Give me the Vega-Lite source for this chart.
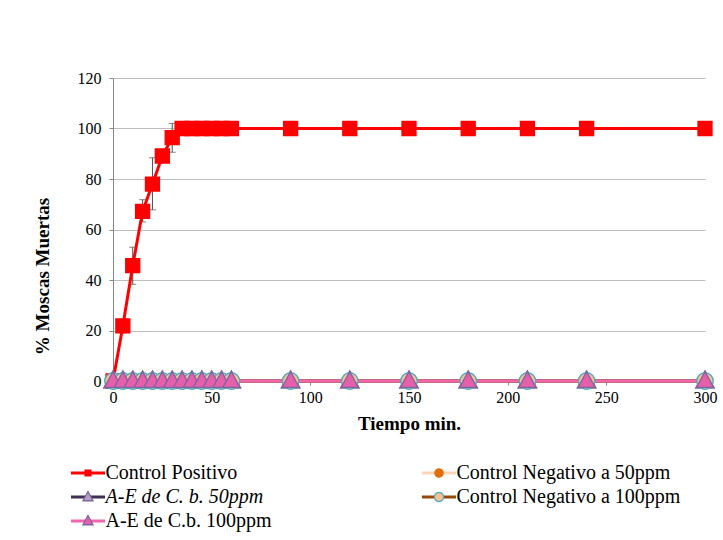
{
  "$schema": "https://vega.github.io/schema/vega-lite/v6.json",
  "width": 592,
  "height": 303,
  "autosize": "none",
  "padding": {"left": 113, "top": 78, "right": 18, "bottom": 159},
  "config": {"font": "Liberation Serif", "view": {"stroke": null}},
  "datasets": {
    "d": [
      {"serie": "Control Positivo", "t": 0, "v": 0},
      {"serie": "Control Positivo", "t": 5, "v": 21.8, "lo": 19.0, "hi": 24.5},
      {"serie": "Control Positivo", "t": 10, "v": 45.7, "lo": 38.3, "hi": 53.0},
      {"serie": "Control Positivo", "t": 15, "v": 67.2, "lo": 63.0, "hi": 71.8},
      {"serie": "Control Positivo", "t": 20, "v": 78.0, "lo": 67.8, "hi": 88.4},
      {"serie": "Control Positivo", "t": 25, "v": 89.1},
      {"serie": "Control Positivo", "t": 30, "v": 96.4, "lo": 90.6, "hi": 102.0},
      {"serie": "Control Positivo", "t": 35, "v": 100},
      {"serie": "Control Positivo", "t": 40, "v": 100},
      {"serie": "Control Positivo", "t": 45, "v": 100},
      {"serie": "Control Positivo", "t": 50, "v": 100},
      {"serie": "Control Positivo", "t": 55, "v": 100},
      {"serie": "Control Positivo", "t": 60, "v": 100},
      {"serie": "Control Positivo", "t": 90, "v": 100},
      {"serie": "Control Positivo", "t": 120, "v": 100},
      {"serie": "Control Positivo", "t": 150, "v": 100},
      {"serie": "Control Positivo", "t": 180, "v": 100},
      {"serie": "Control Positivo", "t": 210, "v": 100},
      {"serie": "Control Positivo", "t": 240, "v": 100},
      {"serie": "Control Positivo", "t": 300, "v": 100},
      {"serie": "Control Negativo a 50ppm", "t": 0, "v": 0},
      {"serie": "Control Negativo a 50ppm", "t": 5, "v": 0},
      {"serie": "Control Negativo a 50ppm", "t": 10, "v": 0},
      {"serie": "Control Negativo a 50ppm", "t": 15, "v": 0},
      {"serie": "Control Negativo a 50ppm", "t": 20, "v": 0},
      {"serie": "Control Negativo a 50ppm", "t": 25, "v": 0},
      {"serie": "Control Negativo a 50ppm", "t": 30, "v": 0},
      {"serie": "Control Negativo a 50ppm", "t": 35, "v": 0},
      {"serie": "Control Negativo a 50ppm", "t": 40, "v": 0},
      {"serie": "Control Negativo a 50ppm", "t": 45, "v": 0},
      {"serie": "Control Negativo a 50ppm", "t": 50, "v": 0},
      {"serie": "Control Negativo a 50ppm", "t": 55, "v": 0},
      {"serie": "Control Negativo a 50ppm", "t": 60, "v": 0},
      {"serie": "Control Negativo a 50ppm", "t": 90, "v": 0},
      {"serie": "Control Negativo a 50ppm", "t": 120, "v": 0},
      {"serie": "Control Negativo a 50ppm", "t": 150, "v": 0},
      {"serie": "Control Negativo a 50ppm", "t": 180, "v": 0},
      {"serie": "Control Negativo a 50ppm", "t": 210, "v": 0},
      {"serie": "Control Negativo a 50ppm", "t": 240, "v": 0},
      {"serie": "Control Negativo a 50ppm", "t": 300, "v": 0},
      {"serie": "A-E de C. b. 50ppm", "t": 0, "v": 0},
      {"serie": "A-E de C. b. 50ppm", "t": 5, "v": 0},
      {"serie": "A-E de C. b. 50ppm", "t": 10, "v": 0},
      {"serie": "A-E de C. b. 50ppm", "t": 15, "v": 0},
      {"serie": "A-E de C. b. 50ppm", "t": 20, "v": 0},
      {"serie": "A-E de C. b. 50ppm", "t": 25, "v": 0},
      {"serie": "A-E de C. b. 50ppm", "t": 30, "v": 0},
      {"serie": "A-E de C. b. 50ppm", "t": 35, "v": 0},
      {"serie": "A-E de C. b. 50ppm", "t": 40, "v": 0},
      {"serie": "A-E de C. b. 50ppm", "t": 45, "v": 0},
      {"serie": "A-E de C. b. 50ppm", "t": 50, "v": 0},
      {"serie": "A-E de C. b. 50ppm", "t": 55, "v": 0},
      {"serie": "A-E de C. b. 50ppm", "t": 60, "v": 0},
      {"serie": "A-E de C. b. 50ppm", "t": 90, "v": 0},
      {"serie": "A-E de C. b. 50ppm", "t": 120, "v": 0},
      {"serie": "A-E de C. b. 50ppm", "t": 150, "v": 0},
      {"serie": "A-E de C. b. 50ppm", "t": 180, "v": 0},
      {"serie": "A-E de C. b. 50ppm", "t": 210, "v": 0},
      {"serie": "A-E de C. b. 50ppm", "t": 240, "v": 0},
      {"serie": "A-E de C. b. 50ppm", "t": 300, "v": 0},
      {"serie": "Control Negativo a 100ppm", "t": 0, "v": 0},
      {"serie": "Control Negativo a 100ppm", "t": 5, "v": 0},
      {"serie": "Control Negativo a 100ppm", "t": 10, "v": 0},
      {"serie": "Control Negativo a 100ppm", "t": 15, "v": 0},
      {"serie": "Control Negativo a 100ppm", "t": 20, "v": 0},
      {"serie": "Control Negativo a 100ppm", "t": 25, "v": 0},
      {"serie": "Control Negativo a 100ppm", "t": 30, "v": 0},
      {"serie": "Control Negativo a 100ppm", "t": 35, "v": 0},
      {"serie": "Control Negativo a 100ppm", "t": 40, "v": 0},
      {"serie": "Control Negativo a 100ppm", "t": 45, "v": 0},
      {"serie": "Control Negativo a 100ppm", "t": 50, "v": 0},
      {"serie": "Control Negativo a 100ppm", "t": 55, "v": 0},
      {"serie": "Control Negativo a 100ppm", "t": 60, "v": 0},
      {"serie": "Control Negativo a 100ppm", "t": 90, "v": 0},
      {"serie": "Control Negativo a 100ppm", "t": 120, "v": 0},
      {"serie": "Control Negativo a 100ppm", "t": 150, "v": 0},
      {"serie": "Control Negativo a 100ppm", "t": 180, "v": 0},
      {"serie": "Control Negativo a 100ppm", "t": 210, "v": 0},
      {"serie": "Control Negativo a 100ppm", "t": 240, "v": 0},
      {"serie": "Control Negativo a 100ppm", "t": 300, "v": 0},
      {"serie": "A-E de C.b. 100ppm", "t": 0, "v": 0},
      {"serie": "A-E de C.b. 100ppm", "t": 5, "v": 0},
      {"serie": "A-E de C.b. 100ppm", "t": 10, "v": 0},
      {"serie": "A-E de C.b. 100ppm", "t": 15, "v": 0},
      {"serie": "A-E de C.b. 100ppm", "t": 20, "v": 0},
      {"serie": "A-E de C.b. 100ppm", "t": 25, "v": 0},
      {"serie": "A-E de C.b. 100ppm", "t": 30, "v": 0},
      {"serie": "A-E de C.b. 100ppm", "t": 35, "v": 0},
      {"serie": "A-E de C.b. 100ppm", "t": 40, "v": 0},
      {"serie": "A-E de C.b. 100ppm", "t": 45, "v": 0},
      {"serie": "A-E de C.b. 100ppm", "t": 50, "v": 0},
      {"serie": "A-E de C.b. 100ppm", "t": 55, "v": 0},
      {"serie": "A-E de C.b. 100ppm", "t": 60, "v": 0},
      {"serie": "A-E de C.b. 100ppm", "t": 90, "v": 0},
      {"serie": "A-E de C.b. 100ppm", "t": 120, "v": 0},
      {"serie": "A-E de C.b. 100ppm", "t": 150, "v": 0},
      {"serie": "A-E de C.b. 100ppm", "t": 180, "v": 0},
      {"serie": "A-E de C.b. 100ppm", "t": 210, "v": 0},
      {"serie": "A-E de C.b. 100ppm", "t": 240, "v": 0},
      {"serie": "A-E de C.b. 100ppm", "t": 300, "v": 0}
    ]
  },
  "data": {"name": "d"},
  "resolve": {"legend": {"color": "independent", "strokeDash": "independent"}},
  "encoding": {
    "x": {
      "field": "t",
      "type": "quantitative",
      "scale": {"domain": [0, 300], "nice": false},
      "axis": {
        "values": [0, 50, 100, 150, 200, 250, 300],
        "title": "Tiempo min.",
        "titleFont": "Liberation Serif",
        "titleFontSize": 19,
        "titleFontWeight": "bold",
        "titleColor": "black",
        "titleBaseline": "middle",
        "titleY": 42,
        "labelFont": "Liberation Serif",
        "labelFontSize": 16,
        "labelColor": "black",
        "labelPadding": 4,
        "labelFlush": false,
        "tickSize": 4,
        "tickColor": "#868686",
        "domainColor": "#868686",
        "grid": false
      }
    }
  },
  "layer": [
    {
      "transform": [{"filter": "isValid(datum.lo)"}],
      "mark": {"type": "errorbar", "color": "#4d4d4d", "thickness": 1, "ticks": {"size": 7}},
      "encoding": {
        "y": {
          "field": "lo",
          "type": "quantitative",
          "scale": {"domain": [0, 120], "nice": false},
          "axis": {
            "values": [0, 20, 40, 60, 80, 100, 120],
            "title": "% Moscas Muertas",
            "titleFont": "Liberation Serif",
            "titleFontSize": 19,
            "titleFontWeight": "bold",
            "titleColor": "black",
            "titleBaseline": "middle",
            "titleX": -71,
            "titleY": 198,
            "labelFont": "Liberation Serif",
            "labelFontSize": 16,
            "labelColor": "black",
            "labelPadding": 8,
            "tickSize": 4,
            "tickColor": "#868686",
            "domainColor": "#868686",
            "gridColor": "#BFBFBF",
            "grid": true
          }
        },
        "y2": {"field": "hi"}
      }
    },
    {
      "mark": {"type": "line", "strokeWidth": 3},
      "encoding": {
        "y": {
          "field": "v",
          "type": "quantitative",
          "scale": {"domain": [0, 120], "nice": false},
          "axis": {
            "values": [0, 20, 40, 60, 80, 100, 120],
            "title": "% Moscas Muertas",
            "titleFont": "Liberation Serif",
            "titleFontSize": 19,
            "titleFontWeight": "bold",
            "titleColor": "black",
            "titleBaseline": "middle",
            "titleX": -71,
            "titleY": 198,
            "labelFont": "Liberation Serif",
            "labelFontSize": 16,
            "labelColor": "black",
            "labelPadding": 8,
            "tickSize": 4,
            "tickColor": "#868686",
            "domainColor": "#868686",
            "gridColor": "#BFBFBF",
            "grid": true
          }
        },
        "color": {
          "field": "serie",
          "type": "nominal",
          "scale": {
            "domain": ["A-E de C.b. 100ppm", "Control Negativo a 100ppm", "A-E de C. b. 50ppm", "Control Negativo a 50ppm", "Control Positivo"],
            "range": ["#F266AE", "#984807", "#403152", "#FCD5B5", "#FF0000"]
          },
          "legend": {
            "title": null,
            "values": ["Control Positivo", "Control Negativo a 50ppm", "A-E de C. b. 50ppm", "Control Negativo a 100ppm", "A-E de C.b. 100ppm"],
            "orient": "none",
            "legendX": -42,
            "legendY": 385,
            "direction": "horizontal",
            "columns": 2,
            "padding": 0,
            "symbolType": "M-2,0H2",
            "symbolSize": 289,
            "symbolStrokeWidth": 3,
            "symbolOffset": 7,
            "labelFont": "Liberation Serif",
            "labelFontSize": 20,
            "labelColor": "black",
            "labelOffset": 7.5,
            "labelLimit": 400,
            "rowPadding": 4,
            "columnPadding": 144,
            "encode": {
              "labels": {
                "update": {
                  "fontStyle": {"signal": "datum.label === 'A-E de C. b. 50ppm' ? 'italic' : 'normal'"}
                }
              }
            }
          }
        },
        "strokeDash": {
          "field": "serie",
          "type": "nominal",
          "scale": {
            "domain": ["Control Positivo", "Control Negativo a 50ppm", "A-E de C. b. 50ppm", "Control Negativo a 100ppm", "A-E de C.b. 100ppm"],
            "range": [[1, 0], [1, 0], [1, 0], [1, 0], [1, 0]]
          },
          "legend": {
            "title": null,
            "orient": "none",
            "legendX": -42,
            "legendY": 385,
            "zindex": 2,
            "direction": "horizontal",
            "columns": 2,
            "padding": 0,
            "symbolSize": 289,
            "symbolStrokeWidth": 1.3,
            "symbolOffset": 7,
            "labelExpr": "' '",
            "labelFont": "Liberation Serif",
            "labelFontSize": 20,
            "labelOffset": 7.5,
            "rowPadding": 4,
            "columnPadding": 311,
            "encode": {
              "symbols": {
                "update": {
                  "shape": {"signal": "datum.value === 'Control Positivo' ? 'M-2,0L-2,0M2,0L2,0M-0.41,-0.41H0.41V0.41H-0.41Z' : datum.value === 'Control Negativo a 50ppm' ? 'M-2,0L-2,0M2,0L2,0M0.48,0A0.48,0.48 0 1,1 -0.48,0A0.48,0.48 0 1,1 0.48,0Z' : datum.value === 'Control Negativo a 100ppm' ? 'M-2,0L-2,0M2,0L2,0M0.54,0A0.54,0.54 0 1,1 -0.54,0A0.54,0.54 0 1,1 0.54,0Z' : 'M-2,0L-2,0M2,0L2,0M0,-0.64L0.59,0.44L-0.59,0.44Z'"},
                  "fill": {"signal": "datum.value === 'Control Positivo' ? '#FF0000' : datum.value === 'Control Negativo a 50ppm' ? '#E46C0A' : datum.value === 'A-E de C. b. 50ppm' ? '#B3A2C7' : datum.value === 'Control Negativo a 100ppm' ? '#FAC090' : '#E65FAA'"},
                  "stroke": {"signal": "datum.value === 'Control Positivo' ? '#FF0000' : datum.value === 'Control Negativo a 50ppm' ? '#E46C0A' : datum.value === 'A-E de C. b. 50ppm' ? '#7E6B9A' : datum.value === 'Control Negativo a 100ppm' ? '#4BACC6' : '#8064A2'"},
                  "fillOpacity": {"value": 1},
                  "strokeDash": {"value": []},
                  "strokeWidth": {"value": 1.3}
                }
              }
            }
          }
        }
      }
    },
    {
      "mark": {"type": "point", "filled": true, "opacity": 1, "strokeWidth": 1.3},
      "encoding": {
        "y": {
          "field": "v",
          "type": "quantitative",
          "scale": {"domain": [0, 120], "nice": false},
          "axis": {
            "values": [0, 20, 40, 60, 80, 100, 120],
            "title": "% Moscas Muertas",
            "titleFont": "Liberation Serif",
            "titleFontSize": 19,
            "titleFontWeight": "bold",
            "titleColor": "black",
            "titleBaseline": "middle",
            "titleX": -71,
            "titleY": 198,
            "labelFont": "Liberation Serif",
            "labelFontSize": 16,
            "labelColor": "black",
            "labelPadding": 8,
            "tickSize": 4,
            "tickColor": "#868686",
            "domainColor": "#868686",
            "gridColor": "#BFBFBF",
            "grid": true
          }
        },
        "shape": {
          "field": "serie",
          "type": "nominal",
          "scale": {
            "domain": ["Control Positivo", "Control Negativo a 50ppm", "A-E de C. b. 50ppm", "Control Negativo a 100ppm", "A-E de C.b. 100ppm"],
            "range": [
              "M-2,0L-2,0M2,0L2,0M-0.41,-0.41H0.41V0.41H-0.41Z",
              "M-2,0L-2,0M2,0L2,0M0.48,0A0.48,0.48 0 1,1 -0.48,0A0.48,0.48 0 1,1 0.48,0Z",
              "M-2,0L-2,0M2,0L2,0M0,-0.64L0.59,0.44L-0.59,0.44Z",
              "M-2,0L-2,0M2,0L2,0M0.54,0A0.54,0.54 0 1,1 -0.54,0A0.54,0.54 0 1,1 0.54,0Z",
              "M-2,0L-2,0M2,0L2,0M0,-0.64L0.59,0.44L-0.59,0.44Z"
            ]
          },
          "legend": null
        },
        "fill": {
          "field": "serie",
          "type": "nominal",
          "scale": {
            "domain": ["Control Positivo", "Control Negativo a 50ppm", "A-E de C. b. 50ppm", "Control Negativo a 100ppm", "A-E de C.b. 100ppm"],
            "range": ["#FF0000", "#E46C0A", "#B3A2C7", "#FAC090", "#E65FAA"]
          },
          "legend": null
        },
        "stroke": {
          "field": "serie",
          "type": "nominal",
          "scale": {
            "domain": ["Control Positivo", "Control Negativo a 50ppm", "A-E de C. b. 50ppm", "Control Negativo a 100ppm", "A-E de C.b. 100ppm"],
            "range": ["#FF0000", "#E46C0A", "#7E6B9A", "#4BACC6", "#8064A2"]
          },
          "legend": null
        },
        "size": {
          "field": "serie",
          "type": "nominal",
          "scale": {
            "domain": ["Control Positivo", "Control Negativo a 50ppm", "A-E de C. b. 50ppm", "Control Negativo a 100ppm", "A-E de C.b. 100ppm"],
            "range": [1166, 850, 456, 711, 456]
          },
          "legend": null
        }
      }
    }
  ]
}
